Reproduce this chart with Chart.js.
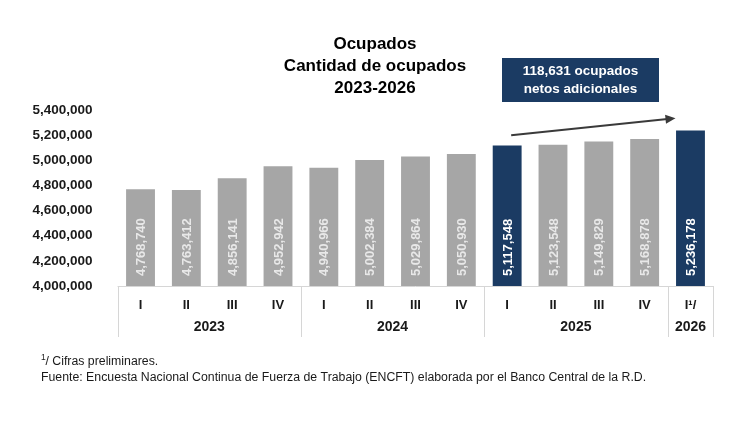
<!DOCTYPE html>
<html>
<head>
<meta charset="utf-8">
<script src="https://cdn.jsdelivr.net/npm/chart.js@4.4.0/dist/chart.umd.min.js"></script>
<style>
  body { margin: 0; background: #fff; }
  canvas { display: block; }
</style>
</head>
<body>
<canvas id="chart" width="750" height="430"></canvas>
<script>
const quarters = ['I', 'II', 'III', 'IV', 'I', 'II', 'III', 'IV', 'I', 'II', 'III', 'IV', 'I¹/'];
const years = ['2023', '2024', '2025', '2026'];
const quartersPerYear = [4, 4, 4, 1];
const ocupados = [4768740, 4763412, 4856141, 4952942, 4940966, 5002384, 5029864, 5050930,
                  5117548, 5123548, 5149829, 5168878, 5236178];
const highlighted = [8, 12];
const yTicks = [4000000, 4200000, 4400000, 4600000, 4800000, 5000000, 5200000, 5400000];

const titleLines = ['Ocupados', 'Cantidad de ocupados', '2023-2026'];
const noteLines = ['Cifras preliminares.',
  'Fuente: Encuesta Nacional Continua de Fuerza de Trabajo (ENCFT) elaborada por el Banco Central de la R.D.'];
const boxLines = ['118,631 ocupados', 'netos adicionales'];

const NAVY = '#1b3b63';
const GRAY = '#a6a6a6';
const FONT = 'Arial, "Liberation Sans", sans-serif';
const fmt = v => v.toLocaleString('en-US');

const barColors = ocupados.map((v, i) => highlighted.includes(i) ? NAVY : GRAY);

const extras = {
    id: 'extras',
    afterDatasetsDraw(chart) {
        const ctx = chart.ctx;
        const xs = chart.scales.x;
        const ys = chart.scales.y;
        const area = chart.chartArea;
        const meta = chart.getDatasetMeta(0);

        // value labels inside the bars
        ctx.save();
        ctx.font = 'bold 13px ' + FONT;
        ctx.textAlign = 'left';
        ctx.textBaseline = 'middle';
        meta.data.forEach((bar, i) => {
            ctx.save();
            ctx.translate(bar.x, area.bottom - 10);
            ctx.rotate(-Math.PI / 2);
            ctx.fillStyle = highlighted.includes(i) ? '#ffffff' : '#e8e8e8';
            ctx.fillText(fmt(ocupados[i]), 0, 1);
            ctx.restore();
        });
        ctx.restore();

        // axis box with year groups
        const half = (xs.getPixelForValue(1) - xs.getPixelForValue(0)) / 2;
        const boxBottom = area.bottom + 51;
        ctx.save();
        ctx.strokeStyle = '#d6d6d6';
        ctx.lineWidth = 1;
        ctx.beginPath();
        ctx.moveTo(area.left, area.bottom + 0.5);
        ctx.lineTo(area.right, area.bottom + 0.5);
        let idx = 0;
        const bounds = [xs.getPixelForValue(0) - half];
        quartersPerYear.forEach(n => {
            idx += n;
            bounds.push(xs.getPixelForValue(idx - 1) + half);
        });
        bounds.forEach(b => {
            ctx.moveTo(Math.round(b) + 0.5, area.bottom);
            ctx.lineTo(Math.round(b) + 0.5, boxBottom);
        });
        ctx.stroke();

        ctx.fillStyle = '#1a1a1a';
        ctx.font = 'bold 14px ' + FONT;
        ctx.textAlign = 'center';
        ctx.textBaseline = 'middle';
        years.forEach((y, i) => {
            ctx.fillText(y, (bounds[i] + bounds[i + 1]) / 2, area.bottom + 41);
        });
        ctx.restore();

        // title
        ctx.save();
        ctx.fillStyle = '#000';
        ctx.font = 'bold 17px ' + FONT;
        ctx.textAlign = 'center';
        ctx.textBaseline = 'middle';
        titleLines.forEach((t, i) => ctx.fillText(t, 375, 44 + i * 22));
        ctx.restore();

        // arrow
        const x0 = xs.getPixelForValue(8) + 4, y0 = ys.getPixelForValue(5200000);
        const x1 = xs.getPixelForValue(12) - 15, y1 = ys.getPixelForValue(5335000);
        const ang = Math.atan2(y1 - y0, x1 - x0);
        ctx.save();
        ctx.strokeStyle = '#3a3a3a';
        ctx.fillStyle = '#3a3a3a';
        ctx.lineWidth = 2;
        ctx.beginPath();
        ctx.moveTo(x0, y0);
        ctx.lineTo(x1 - 8 * Math.cos(ang), y1 - 8 * Math.sin(ang));
        ctx.stroke();
        ctx.beginPath();
        ctx.moveTo(x1, y1);
        ctx.lineTo(x1 - 10 * Math.cos(ang) + 4.5 * Math.sin(ang), y1 - 10 * Math.sin(ang) - 4.5 * Math.cos(ang));
        ctx.lineTo(x1 - 10 * Math.cos(ang) - 4.5 * Math.sin(ang), y1 - 10 * Math.sin(ang) + 4.5 * Math.cos(ang));
        ctx.closePath();
        ctx.fill();
        ctx.restore();

        // annotation box
        ctx.save();
        ctx.fillStyle = NAVY;
        ctx.fillRect(502, 58, 157, 44);
        ctx.fillStyle = '#fff';
        ctx.font = 'bold 13.5px ' + FONT;
        ctx.textAlign = 'center';
        ctx.textBaseline = 'middle';
        boxLines.forEach((t, i) => ctx.fillText(t, 580.5, 71 + i * 18));
        ctx.restore();

        // footnotes
        ctx.save();
        ctx.fillStyle = '#1a1a1a';
        ctx.textBaseline = 'middle';
        ctx.textAlign = 'left';
        ctx.font = '8.5px ' + FONT;
        ctx.fillText('1', 41, 358);
        ctx.font = '12.3px ' + FONT;
        ctx.fillText('/ ' + noteLines[0], 45.5, 362);
        ctx.fillText(noteLines[1], 41, 378);
        ctx.restore();
    }
};

new Chart(document.getElementById('chart'), {
    type: 'bar',
    data: {
        labels: quarters,
        datasets: [{
            data: ocupados,
            backgroundColor: barColors,
            barPercentage: 0.63,
            categoryPercentage: 1
        }]
    },
    options: {
        responsive: false,
        animation: false,
        layout: { padding: { left: 0, right: 36.6, top: 110, bottom: 93 } },
        plugins: {
            legend: { display: false },
            tooltip: { enabled: false },
            title: { display: false }
        },
        scales: {
            x: {
                grid: { display: false },
                border: { display: false },
                ticks: {
                    color: '#1a1a1a',
                    font: { family: FONT, size: 13, weight: 'bold' },
                    padding: 4,
                    maxRotation: 0,
                    autoSkip: false
                },
                afterFit(scale) { scale.height = 51; }
            },
            y: {
                min: 4000000,
                max: 5400000,
                grid: { display: false },
                border: { display: false },
                afterBuildTicks(scale) { scale.ticks = yTicks.map(v => ({ value: v })); },
                ticks: {
                    color: '#1a1a1a',
                    font: { family: FONT, size: 13.5, weight: 'bold' },
                    padding: 17,
                    callback: v => fmt(v)
                },
                afterFit(scale) { scale.width = 117.6; }
            }
        }
    },
    plugins: [extras]
});
</script>
</body>
</html>
